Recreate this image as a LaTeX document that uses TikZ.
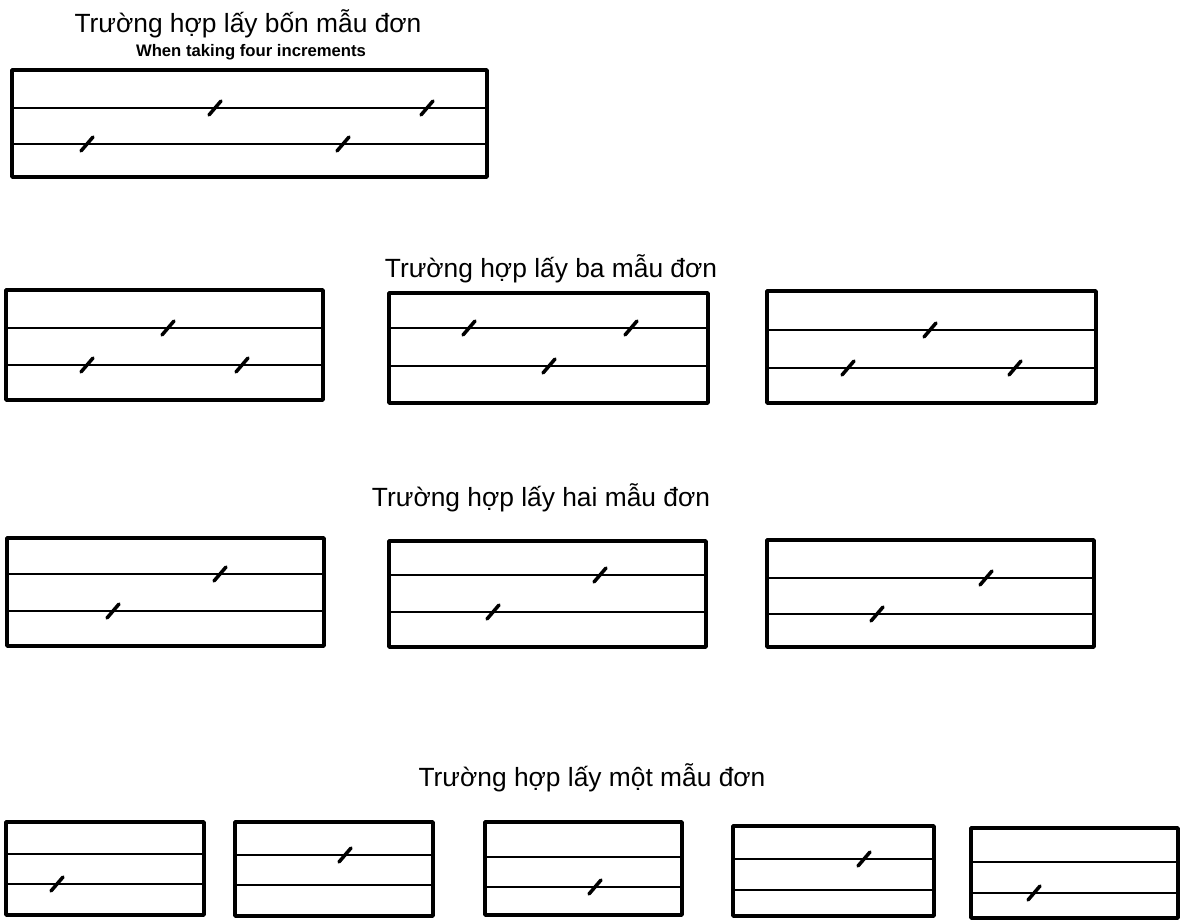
\documentclass[tikz,border=0pt]{standalone}
\usepackage{fontspec}
\setmainfont{Liberation Sans}
\begin{document}
\begin{tikzpicture}[x=0.02cm, y=-0.02cm,
    every node/.style={font=\fontsize{15}{18}\selectfont, inner sep=0pt},
    caption/.style={anchor=base},
    subcaption/.style={anchor=base, font=\fontsize{9.5}{11}\selectfont\bfseries},
    frame/.style={draw=black, line width=2.1pt, line join=round},
    level/.style={draw=black, line width=1.4pt},
    incr/.style={draw=black, line width=2pt, line cap=round}
  ]
    \useasboundingbox (0,0) rectangle (1182,922);

    % captions
    \node[caption] (four) at (248,33) {Trường hợp lấy bốn mẫu đơn};
    \node[subcaption] (fourEn) at (251,57) {When taking four increments};
    \node[caption] (three) at (551,277) {Trường hợp lấy ba mẫu đơn};
    \node[caption] (two) at (541,506) {Trường hợp lấy hai mẫu đơn};
    \node[caption] (one) at (592,786) {Trường hợp lấy một mẫu đơn};

    % boxes: left/top/right/bottom/upper line/lower line
    \foreach \l/\t/\r/\b/\p/\q in {
        12/70/487/177/108/144,
        6/290/323/400/328/365, 389/293/708/403/328/366, 767/291/1096/403/330/368,
        7/538/324/646/574/611, 389/541/706/647/575/612, 767/540/1094/647/578/614,
        6/822/204/915/854/884, 235/822/433/916/855/885, 485/822/682/915/857/887,
        733/826/934/916/859/890, 971/828/1178/918/862/893} {
      \draw[frame] (\l,\t) rectangle (\r,\b);
      \draw[level] (\l,\p) -- (\r,\p);
      \draw[level] (\l,\q) -- (\r,\q);
    }

    % increments
    \foreach \x/\y in {
        215/108, 427/108, 87/144, 343/144,
        168/328, 87/365, 242/365,
        469/328, 631/328, 549/366,
        930/330, 848/368, 1015/368,
        220/574, 113/611,
        600/575, 493/612,
        986/578, 877/614,
        57/884, 345/855, 595/887, 864/859, 1034/893} {
      \draw[incr] (\x,\y) ++(-6,7) -- ++(12,-14);
    }
  \end{tikzpicture}
\end{document}
